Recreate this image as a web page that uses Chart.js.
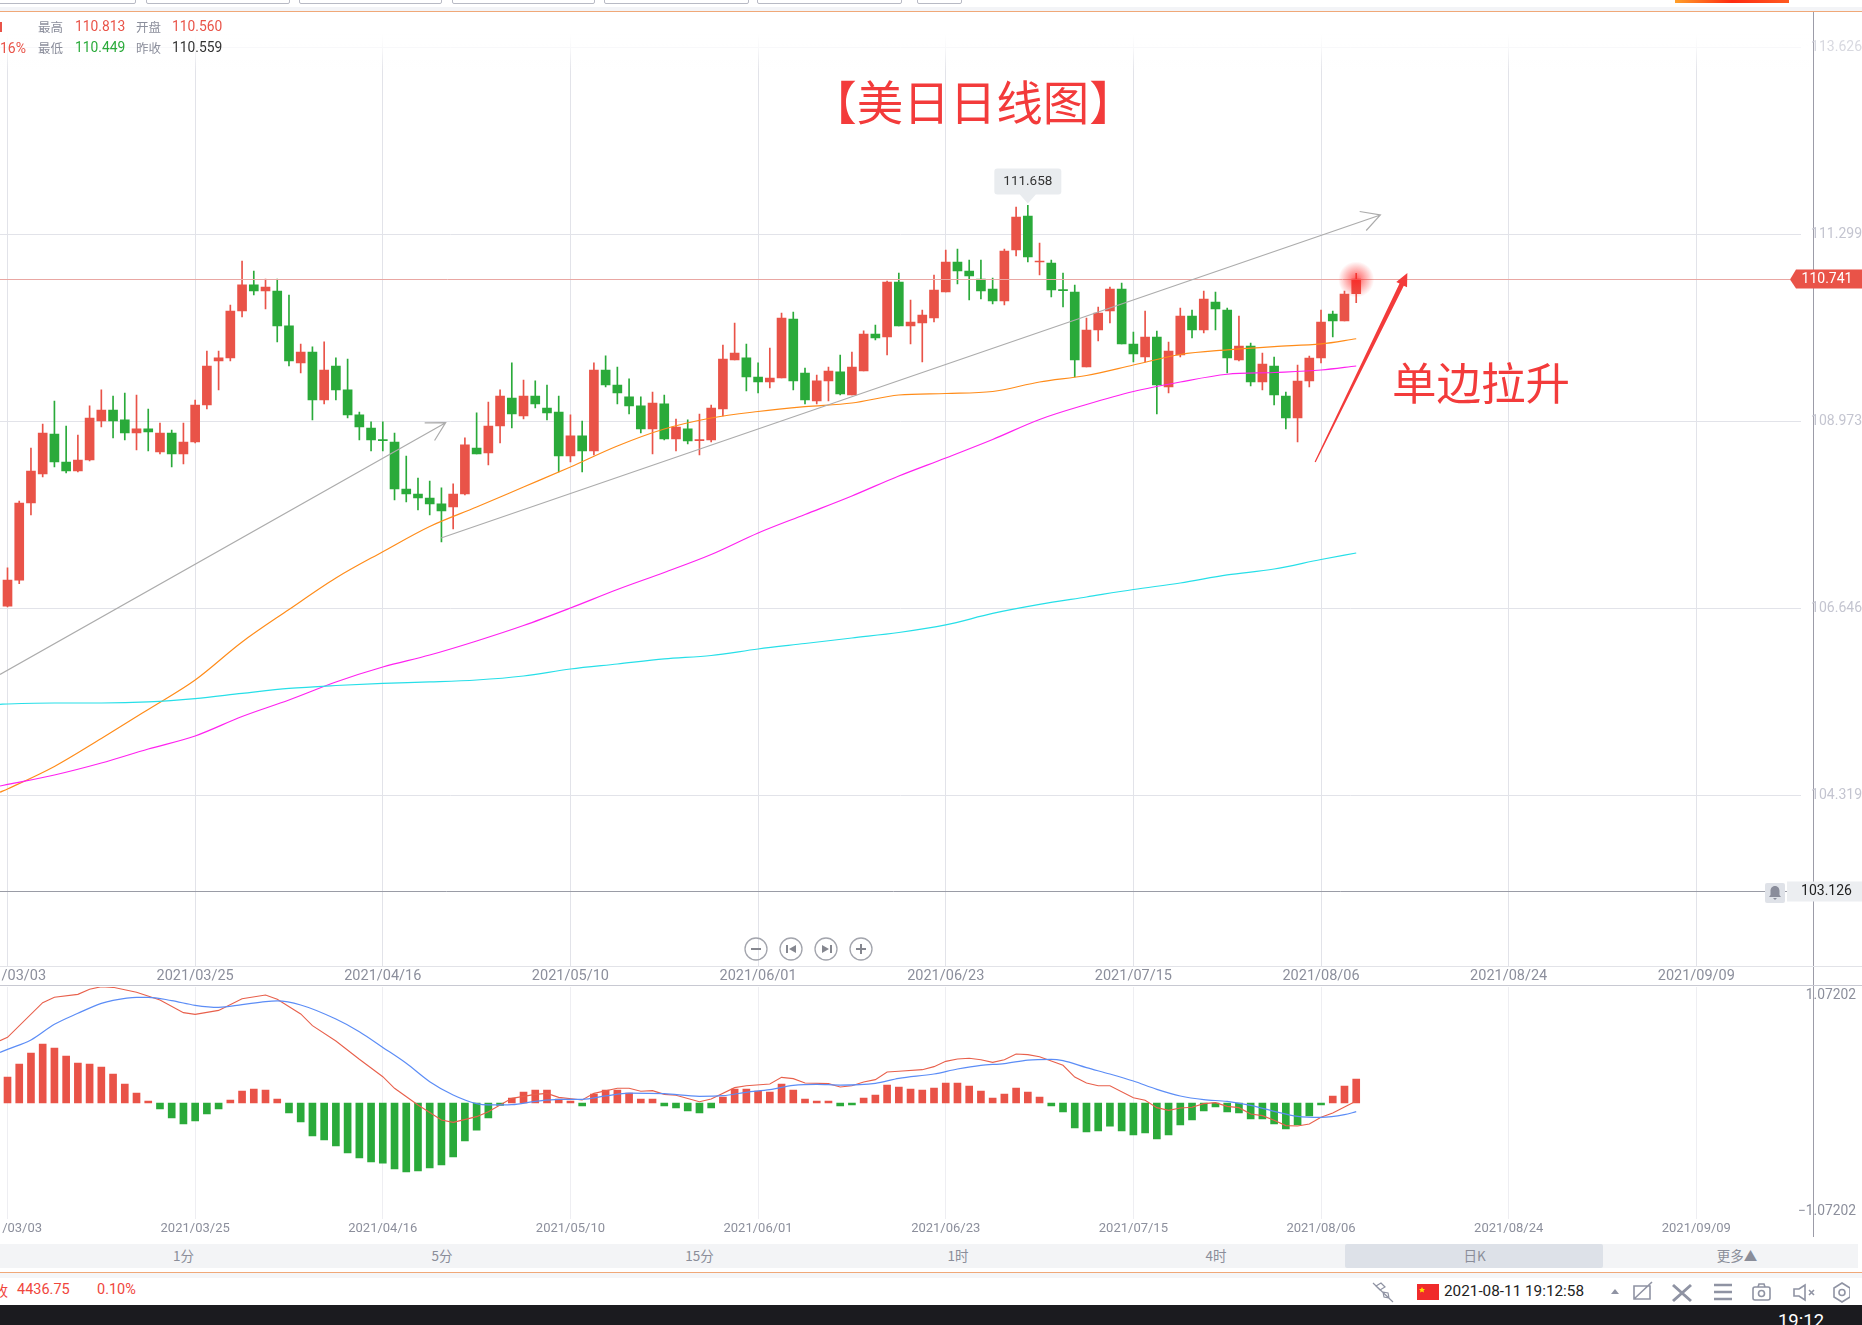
<!DOCTYPE html>
<html>
<head>
<meta charset="utf-8">
<title>USDJPY daily</title>
<script src="https://cdn.jsdelivr.net/npm/chart.js@4/dist/chart.umd.min.js"></script>
<style>
  html, body { margin: 0; padding: 0; background: #fff; }
  body { position: relative; width: 1862px; height: 1325px; overflow: hidden; font-family: Roboto, "Noto Sans CJK SC", sans-serif; }
  canvas { position: absolute; left: 0; }
  .box { position: absolute; }
  .txt { position: absolute; white-space: nowrap; line-height: 1; transform: translateY(-50%); }
  .mid { transform: translate(-50%, -50%); }
  .cjk { font-family: "Noto Sans CJK SC", sans-serif; }
  svg { position: absolute; }
</style>
</head>
<body>
<div class="box" style="left:1813px;top:12px;width:1px;height:1225px;background:#9c9ca8"></div>
<canvas id="priceChart" width="1862" height="985" style="top:0"></canvas>
<canvas id="macdChart" width="1862" height="255" style="top:985px"></canvas>

<svg width="170" height="30" style="left:740px;top:934px" fill="none" stroke="#a3a5ad" stroke-width="1.3">
  <circle cx="16" cy="15" r="11"/><circle cx="51" cy="15" r="11"/><circle cx="86" cy="15" r="11"/><circle cx="121" cy="15" r="11"/>
  <path d="M11 15h10M116 15h10M121 10v10" stroke="#85878f" stroke-width="2"/>
  <path d="M47 11v8M91 11v8" stroke="#85878f" stroke-width="2"/>
  <path d="M56 11l-7 4 7 4zM82 11l7 4-7 4z" fill="#85878f" stroke="none"/>
</svg>
<svg width="20" height="20" style="left:1765px;top:883px">
  <rect width="20" height="20" rx="2" fill="#dfe2e8"/>
  <path d="M10 3c-3 0-4.500 2.500-4.500 5v4l-1.500 2h12l-1.500-2v-4c0-2.500-1.500-5-4.500-5zM8 15h4l-2 2z" fill="#8a8d9b"/>
</svg>
<svg width="480" height="28" style="left:1370px;top:1278px" fill="none" stroke="#8f93a3" stroke-width="1.6">
  <path d="M3 5l20 19M6 8l5-3 4 4-5 3zM13 14l5 1 1 5-5-1z" stroke-width="1.2"/>
  <rect x="47" y="6" width="22" height="16" fill="#f02b2b" stroke="none"/>
  <path d="M52 9l1 2 2 0-1.500 1.500 .5 2-2-1-2 1 .5-2-1.500-1.500 2 0z" fill="#ffe000" stroke="none"/>
  <path d="M241 16l4-5 4 5z" fill="#8f93a3" stroke="none"/>
  <path d="M264 8h16v13h-16zM264 21l18-17"/>
  <path d="M303 7l18 16M321 7l-18 16" stroke-width="3"/>
  <path d="M344 7h18M344 14h18M344 21h18" stroke-width="2.4"/>
  <rect x="383" y="9" width="17" height="13" rx="2"/><circle cx="391.500" cy="15.500" r="3"/><path d="M388 9l1-3h5l1 3"/>
  <path d="M424 11h5l6-4v15l-6-4h-5zM439 12l5 5M444 12l-5 5"/>
  <path d="M472 5l8 5v9l-8 5-8-5v-9z"/><circle cx="472" cy="14.500" r="3"/>
</svg>

<script>
// Candles, one entry per trading day from 2021/03/03.
const opens = [106.673,106.998,107.957,108.318,108.815,108.467,108.355,108.492,108.977,109.114,108.990,108.828,108.878,108.592,108.828,108.567,108.716,109.176,109.723,109.761,110.345,110.669,110.594,110.594,110.159,109.699,109.835,109.238,109.661,109.363,109.052,108.890,108.741,108.716,108.131,108.069,108.019,107.945,107.907,108.069,108.641,108.579,108.915,109.263,109.039,109.288,109.139,109.089,108.542,108.791,108.604,109.611,109.425,109.276,109.164,108.878,109.189,108.753,108.878,108.733,108.741,109.126,109.736,109.761,109.524,109.462,109.512,110.246,109.574,109.226,109.475,109.587,109.300,109.599,110.059,110.022,110.706,110.159,110.196,110.258,110.581,110.954,110.843,110.743,110.619,110.469,111.104,111.527,110.954,110.942,110.606,110.581,109.648,110.109,110.345,110.619,109.935,109.773,110.022,109.400,109.798,110.283,110.109,110.457,110.357,109.736,109.910,109.462,109.661,109.288,109.014,109.474,109.760,110.308,110.221,110.560];
const highs = [107.151,107.982,108.641,108.940,109.226,108.915,108.803,109.164,109.363,109.288,109.325,109.300,109.126,108.952,108.865,108.952,109.238,109.848,109.848,110.420,110.967,110.843,110.743,110.743,110.544,109.935,109.898,109.960,109.761,109.748,109.089,108.965,108.965,108.828,108.542,108.268,108.231,108.144,108.194,108.766,109.077,109.213,109.363,109.699,109.487,109.475,109.425,109.288,109.052,108.977,109.699,109.786,109.649,109.500,109.276,109.338,109.300,109.002,108.990,109.064,109.176,109.922,110.196,109.935,109.699,109.885,110.320,110.333,109.636,109.549,109.649,109.798,109.835,110.097,110.171,110.718,110.818,110.482,110.357,110.793,111.104,111.116,110.979,110.979,110.755,111.116,111.639,111.658,111.191,110.979,110.818,110.668,110.258,110.395,110.644,110.693,110.084,110.345,110.096,109.959,110.382,110.357,110.594,110.581,110.382,110.283,109.947,109.823,109.773,109.338,109.673,109.785,110.357,110.345,110.594,110.813];
const lows = [106.663,106.954,107.808,108.281,108.405,108.330,108.343,108.480,108.902,108.766,108.741,108.616,108.604,108.567,108.405,108.442,108.703,109.126,109.363,109.723,110.271,110.544,110.370,109.960,109.661,109.574,108.990,109.189,109.238,109.014,108.741,108.604,108.604,107.994,107.970,107.870,107.808,107.472,107.634,108.057,108.567,108.430,108.703,108.890,109.002,109.139,108.990,108.343,108.467,108.343,108.554,109.400,109.189,109.064,108.828,108.567,108.741,108.604,108.691,108.554,108.716,109.039,109.736,109.350,109.325,109.388,109.512,109.363,109.189,109.189,109.226,109.300,109.300,109.599,109.985,109.798,110.159,109.935,109.711,110.208,110.581,110.681,110.482,110.494,110.432,110.420,111.029,110.954,110.793,110.519,110.395,109.524,109.648,109.972,110.196,109.935,109.711,109.711,109.064,109.325,109.773,110.009,110.071,110.109,109.574,109.723,109.412,109.362,109.176,108.877,108.716,109.400,109.698,110.022,110.221,110.449];
const closes = [106.998,107.957,108.355,108.828,108.467,108.355,108.492,109.014,109.114,108.977,108.828,108.878,108.840,108.828,108.567,108.716,109.176,109.661,109.761,110.345,110.669,110.594,110.644,110.159,109.723,109.835,109.238,109.611,109.363,109.052,108.902,108.741,108.733,108.131,108.069,108.019,107.945,107.858,108.069,108.679,108.567,108.915,109.288,109.064,109.288,109.189,109.077,108.542,108.791,108.604,109.611,109.425,109.325,109.164,108.878,109.201,108.753,108.902,108.728,108.741,109.139,109.748,109.823,109.524,109.462,109.512,110.258,109.475,109.238,109.475,109.599,109.313,109.649,110.059,110.009,110.706,110.159,110.208,110.295,110.606,110.954,110.843,110.780,110.594,110.469,111.091,111.514,111.017,110.967,110.606,110.598,109.736,110.109,110.320,110.619,109.935,109.810,110.022,109.425,109.847,110.283,110.109,110.494,110.370,109.760,109.910,109.462,109.686,109.300,109.014,109.474,109.760,110.208,110.221,110.556,110.741];

// Moving averages, read every four candles.
const maIdx = [-0.64,0,4,8,12,16,20,24,28,32,36,40,44,48,52,56,60,64,68,72,76,80,84,88,92,96,100,104,108,112,115];
const maOrange = [104.359,104.400,104.680,105.028,105.389,105.755,106.228,106.632,107.024,107.351,107.665,107.907,108.156,108.405,108.666,108.877,109.014,109.095,109.155,109.201,109.300,109.319,109.344,109.462,109.543,109.673,109.804,109.862,109.903,109.935,110.000];
const maMagenta = [104.437,104.456,104.574,104.723,104.897,105.059,105.301,105.507,105.731,105.917,106.066,106.241,106.433,106.651,106.881,107.093,107.316,107.584,107.814,108.044,108.293,108.517,108.747,108.996,109.182,109.344,109.462,109.558,109.580,109.611,109.661];
const maCyan = [105.453,105.457,105.469,105.469,105.482,105.523,105.588,105.650,105.687,105.714,105.731,105.755,105.805,105.892,105.954,106.017,106.060,106.141,106.209,106.278,106.346,106.440,106.583,106.695,106.788,106.881,106.962,107.062,107.136,107.254,107.335];

// MACD pane.
const macdHist = [.240,.360,.462,.545,.508,.434,.370,.360,.333,.268,.176,.092,.018,-.055,-.139,-.194,-.166,-.102,-.055,.028,.111,.129,.120,.037,-.092,-.176,-.305,-.342,-.397,-.462,-.508,-.545,-.555,-.610,-.638,-.628,-.601,-.573,-.499,-.351,-.250,-.139,-.022,.046,.102,.120,.120,.037,.018,-.028,.083,.120,.120,.092,.037,.037,-.028,-.046,-.074,-.092,-.046,.055,.129,.129,.111,.102,.176,.120,.037,.018,.018,-.028,-.018,.046,.074,.166,.148,.129,.120,.139,.185,.185,.157,.111,.046,.083,.139,.102,.055,-.028,-.083,-.231,-.268,-.259,-.213,-.259,-.296,-.277,-.333,-.296,-.203,-.157,-.074,-.037,-.083,-.092,-.148,-.148,-.194,-.240,-.203,-.120,-.018,.065,.157,.222];
const difIdx = [-0.64,0,3,4,6,7,8,9,11,13,15,16,18,20,22,23,25,26,28,30,32,33,35,37,38,40,41,43,45,46,47,49,50,52,53,54,55,56,57,59,60,62,63,65,66,67,68,70,71,72,73,74,75,76,78,79,80,81,82,83,84,85,86,87,88,89,90,91,92,93,94,96,97,98,99,100,101,102,103,104,105,106,107,108,109,110,111,112,113,114,115];
const difValues = [.576,.607,.927,.977,1.004,1.051,1.075,1.069,1.023,.952,.835,.819,.856,.964,.998,.958,.823,.715,.573,.404,.243,.136,-.018,-.157,-.179,-.126,-.080,.043,.080,.089,.052,.028,.089,.136,.136,.108,.114,.080,.071,.012,.037,.142,.160,.176,.237,.225,.185,.179,.148,.160,.194,.216,.287,.293,.308,.336,.385,.407,.413,.400,.376,.400,.453,.447,.428,.388,.348,.240,.185,.160,.160,.049,.025,-.043,-.068,-.046,-.040,-.006,.003,-.031,-.043,-.102,-.117,-.160,-.209,-.213,-.194,-.132,-.092,-.037,.018];
const deaIdx = [-0.64,0,2,4,6,8,9,11,12,14,16,18,20,22,23,25,28,30,32,34,36,38,40,41,43,45,47,49,51,53,56,59,61,63,65,67,69,71,74,76,79,81,83,85,87,89,90,92,94,96,98,100,102,104,106,108,110,112,114,115];
const deaValues = [.468,.496,.582,.727,.829,.921,.949,.977,.977,.946,.903,.884,.909,.937,.943,.906,.776,.659,.514,.367,.197,.074,-.006,-.018,-.015,.015,.034,.034,.065,.092,.086,.062,.068,.099,.123,.163,.173,.166,.182,.228,.268,.314,.348,.364,.397,.404,.391,.327,.268,.203,.126,.065,.031,.015,-.022,-.077,-.123,-.132,-.108,-.080];

// Axes.
const tickIdx = [0,16,32,48,64,80,96,112,128,144];
const tickLabels = ['2021/03/03','2021/03/25','2021/04/16','2021/05/10','2021/06/01','2021/06/23','2021/07/15','2021/08/06','2021/08/24','2021/09/09'];
const priceTicks = [113.626,111.299,108.973,106.646,104.319];
const macdTicks = [1.07202,-1.07202];
const lastPrice = 110.741;
const alertPrice = 103.126;
const peakIndex = 87;

// Hand drawn arrows on the chart, in candle index and price.
const grayArrowX = [[-0.64,37.36],[36.97,117.06]];
const grayArrowY = [[105.824,108.956],[107.522,111.539]];
const redArrowX = [111.5,119.36];
const redArrowY = [108.467,110.818];

const RED = '#e95348';
const GREEN = '#2aaa3a';
const xMin = -0.64;
const xMax = 152.9;
const axisWidth = 61.3;

function pairs(xs, ys) {
  return xs.map((x, i) => ({x: x, y: ys[i]}));
}

function candleColor(i) {
  return closes[i] >= opens[i] ? RED : GREEN;
}

function xAxis(fontSize, gridColor, height, padding) {
  return {
    type: 'linear',
    min: xMin,
    max: xMax,
    offset: false,
    afterBuildTicks: (scale) => { scale.ticks = tickIdx.map(v => ({value: v})); },
    afterFit: (scale) => { scale.paddingLeft = 0; scale.paddingRight = 0; scale.height = height; },
    grid: {color: gridColor, offset: false, drawTicks: false},
    border: {display: false},
    ticks: {
      autoSkip: false,
      maxRotation: 0,
      padding: padding,
      color: '#8c8f9c',
      font: {family: 'Roboto', size: fontSize},
      callback: (v) => tickLabels[tickIdx.indexOf(v)]
    }
  };
}

function lineSet(data, color, width, smooth) {
  return {
    type: 'line',
    data: data,
    borderColor: color,
    borderWidth: width,
    pointRadius: 0,
    cubicInterpolationMode: smooth ? 'monotone' : 'default',
    order: 1
  };
}

function drawOpenArrow(ctx, x0, y0, x1, y1) {
  const angle = Math.atan2(y1 - y0, x1 - x0);
  ctx.beginPath();
  ctx.moveTo(x0, y0);
  ctx.lineTo(x1, y1);
  ctx.moveTo(x1 - 21 * Math.cos(angle - 0.5), y1 - 21 * Math.sin(angle - 0.5));
  ctx.lineTo(x1, y1);
  ctx.lineTo(x1 - 21 * Math.cos(angle + 0.5), y1 - 21 * Math.sin(angle + 0.5));
  ctx.stroke();
}

function drawRedArrow(ctx, x0, y0, x1, y1) {
  const angle = Math.atan2(y1 - y0, x1 - x0);
  const nx = -Math.sin(angle), ny = Math.cos(angle);
  const bx = x1 - 13 * Math.cos(angle), by = y1 - 13 * Math.sin(angle);
  ctx.beginPath();
  ctx.moveTo(x0 + nx * 0.6, y0 + ny * 0.6);
  ctx.lineTo(bx + nx * 2.4, by + ny * 2.4);
  ctx.lineTo(bx + nx * 6, by + ny * 6);
  ctx.lineTo(x1, y1);
  ctx.lineTo(bx - nx * 6, by - ny * 6);
  ctx.lineTo(bx - nx * 2.4, by - ny * 2.4);
  ctx.lineTo(x0 - nx * 0.6, y0 - ny * 0.6);
  ctx.closePath();
  ctx.fill();
}

// Everything on top of the candles: level lines, tags, arrows, peak bubble.
const priceOverlay = {
  id: 'priceOverlay',
  afterDatasetsDraw(chart) {
    const ctx = chart.ctx, sx = chart.scales.x, sy = chart.scales.y;
    ctx.save();

    const lastY = Math.round(sy.getPixelForValue(lastPrice)) + 0.5;
    const alertY = Math.round(sy.getPixelForValue(alertPrice)) + 0.5;
    ctx.lineWidth = 1;
    ctx.strokeStyle = '#e9a7a3';
    ctx.beginPath(); ctx.moveTo(0, lastY); ctx.lineTo(1790, lastY); ctx.stroke();
    ctx.strokeStyle = '#9a9ca6';
    ctx.beginPath(); ctx.moveTo(0, alertY); ctx.lineTo(1787, alertY); ctx.stroke();

    // Glow on the live candle.
    const haloX = sx.getPixelForValue(opens.length - 1);
    const halo = ctx.createRadialGradient(haloX, lastY, 2, haloX, lastY, 18);
    halo.addColorStop(0, 'rgba(255,30,30,.65)');
    halo.addColorStop(1, 'rgba(255,30,30,0)');
    ctx.fillStyle = halo;
    ctx.beginPath(); ctx.arc(haloX, lastY, 18, 0, Math.PI * 2); ctx.fill();

    ctx.strokeStyle = '#acacac';
    ctx.lineWidth = 1.2;
    grayArrowX.forEach((xs, i) => {
      drawOpenArrow(ctx, sx.getPixelForValue(xs[0]), sy.getPixelForValue(grayArrowY[i][0]),
        sx.getPixelForValue(xs[1]), sy.getPixelForValue(grayArrowY[i][1]));
    });
    ctx.fillStyle = '#f33b3b';
    drawRedArrow(ctx, sx.getPixelForValue(redArrowX[0]), sy.getPixelForValue(redArrowY[0]),
      sx.getPixelForValue(redArrowX[1]), sy.getPixelForValue(redArrowY[1]));

    // Bubble over the highest candle.
    const px = sx.getPixelForValue(peakIndex), py = sy.getPixelForValue(highs[peakIndex]);
    ctx.fillStyle = '#e9ecef';
    ctx.beginPath();
    ctx.roundRect(px - 33.5, py - 37, 67, 26, 3);
    ctx.moveTo(px - 8, py - 11);
    ctx.lineTo(px, py - 2);
    ctx.lineTo(px + 8, py - 11);
    ctx.fill();
    ctx.fillStyle = '#333';
    ctx.font = '13.5px Roboto';
    ctx.textAlign = 'center';
    ctx.textBaseline = 'middle';
    ctx.fillText(highs[peakIndex].toFixed(3), px, py - 24);

    // Price tags on the right axis.
    ctx.fillStyle = RED;
    ctx.beginPath();
    ctx.moveTo(1790, lastY);
    ctx.lineTo(1796, lastY - 10);
    ctx.lineTo(1862, lastY - 10);
    ctx.lineTo(1862, lastY + 9);
    ctx.lineTo(1796, lastY + 9);
    ctx.fill();
    ctx.fillStyle = '#fff';
    ctx.font = '14px Roboto';
    ctx.fillText(lastPrice.toFixed(3), 1827, lastY);
    ctx.fillStyle = '#eceef1';
    ctx.fillRect(1787, alertY - 10, 75, 20);
    ctx.fillStyle = '#222';
    ctx.fillText(alertPrice.toFixed(3), 1826.5, alertY);
    ctx.restore();
  }
};

new Chart(document.getElementById('priceChart'), {
  type: 'bar',
  plugins: [priceOverlay],
  data: {
    datasets: [
      lineSet(pairs(maIdx, maCyan), '#27dfe8', 1.2, true),
      lineSet(pairs(maIdx, maMagenta), '#ff22f0', 1.2, true),
      lineSet(pairs(maIdx, maOrange), '#ff8c1a', 1.2, true),
      {
        data: opens.map((o, i) => ({x: i, y: [o, closes[i]]})),
        backgroundColor: opens.map((o, i) => candleColor(i)),
        barThickness: 9,
        minBarLength: 1,
        grouped: false,
        order: 2
      },
      {
        data: opens.map((o, i) => ({x: i, y: [lows[i], highs[i]]})),
        backgroundColor: opens.map((o, i) => candleColor(i)),
        barThickness: 1,
        grouped: false,
        order: 3
      }
    ]
  },
  options: {
    responsive: false,
    animation: false,
    layout: {padding: {top: 12}},
    plugins: {legend: {display: false}, tooltip: {enabled: false}},
    scales: {
      x: xAxis(14.5, '#e2e3e9', 19, 2),
      y: {
        position: 'right',
        min: 102.198,
        max: 114.064,
        afterBuildTicks: (scale) => { scale.ticks = priceTicks.map(v => ({value: v})); },
        afterFit: (scale) => { scale.width = axisWidth; scale.paddingTop = 0; scale.paddingBottom = 0; },
        grid: {drawTicks: false, color: '#e2e3e9'},
        border: {display: false},
        ticks: {
          crossAlign: 'far',
          padding: 6,
          color: '#c4c5d0',
          font: {family: 'Roboto', size: 14},
          callback: (v) => v.toFixed(3)
        }
      }
    }
  }
});

// The two MACD labels sit inside the pane, hung from its top and bottom edge.
const macdLabels = {
  id: 'macdLabels',
  afterDraw(chart) {
    const ctx = chart.ctx, sy = chart.scales.y;
    ctx.save();
    ctx.fillStyle = '#8c8f9c';
    ctx.font = '13.8px Roboto';
    ctx.textAlign = 'right';
    ctx.textBaseline = 'middle';
    macdTicks.forEach(v => {
      const text = (v < 0 ? '\u2212' : '') + Math.abs(v).toFixed(5);
      ctx.fillText(text, 1856, sy.getPixelForValue(v) + (v > 0 ? 9 : -7));
    });
    ctx.restore();
  }
};

new Chart(document.getElementById('macdChart'), {
  type: 'bar',
  plugins: [macdLabels],
  data: {
    datasets: [
      lineSet(pairs(deaIdx, deaValues), '#5c8df6', 1.2, true),
      lineSet(pairs(difIdx, difValues), '#e8604c', 1.1, false),
      {
        data: pairs(macdHist.map((v, i) => i), macdHist),
        backgroundColor: macdHist.map(v => v >= 0 ? RED : GREEN),
        barThickness: 7,
        order: 2
      }
    ]
  },
  options: {
    responsive: false,
    animation: false,
    layout: {padding: {top: 2}},
    plugins: {legend: {display: false}, tooltip: {enabled: false}},
    scales: {
      x: xAxis(13, '#eeeef2', 21, 2),
      y: {
        position: 'right',
        min: macdTicks[1],
        max: macdTicks[0],
        afterFit: (scale) => { scale.width = axisWidth; scale.paddingTop = 0; scale.paddingBottom = 0; },
        grid: {display: false},
        border: {display: false},
        ticks: {display: false}
      }
    }
  }
});

// Page furniture around the charts.
function box(x, y, w, h, css) {
  const el = document.createElement('div');
  el.className = 'box';
  el.style.cssText = 'left:' + x + 'px;top:' + y + 'px;width:' + w + 'px;height:' + h + 'px;' + css;
  document.body.appendChild(el);
  return el;
}

function text(x, y, str, color, size, centered, cjk) {
  const el = document.createElement('div');
  el.className = 'txt' + (centered ? ' mid' : '') + (cjk ? ' cjk' : '');
  el.style.cssText = 'left:' + x + 'px;top:' + y + 'px;color:' + color + ';font-size:' + size + 'px';
  el.textContent = str;
  document.body.appendChild(el);
}

// The grid fades out towards the top of the pane.
box(0, 12, 1812, 60, 'background:linear-gradient(#fff 35%,rgba(255,255,255,.75) 60%,rgba(255,255,255,0))');
box(1814, 12, 48, 60, 'background:rgba(255,255,255,.35)');

// Toolbar tabs cut off by the top of the window.
[[-20,134],[145.5,287.5],[298.5,440],[451.5,593],[604,747],[757,900],[917,960]].forEach(t => {
  box(t[0], -4, t[1] - t[0], 6, 'border:1px solid #b8bac4;border-radius:2px;background:#fff');
});
box(1675, 0, 114, 3, 'background:linear-gradient(90deg,#ffa02a,#ff2a10 50%,#ff5a20)');
box(0, 7, 1862, 4, 'background:#f3f4f7');
box(0, 11, 1862, 1, 'background:#f0a878');

// Quote header.
box(0, 22, 2, 10, 'background:' + RED);
text(0, 47.5, '16%', RED, 14);
text(38, 27, '最高', '#8c8f9c', 12.5, false, true);
text(75, 27, '110.813', RED, 13.8);
text(136, 27, '开盘', '#8c8f9c', 12.5, false, true);
text(172, 27, '110.560', RED, 13.8);
text(38, 47.5, '最低', '#8c8f9c', 12.5, false, true);
text(75, 47.5, '110.449', GREEN, 13.8);
text(136, 47.5, '昨收', '#8c8f9c', 12.5, false, true);
text(172, 47.5, '110.559', '#333', 13.8);

// Annotations typed on the screenshot.
text(973, 100, '【美日日线图】', '#f33b3b', 46.5, true, true);
text(1481, 381, '单边拉升', '#f33b3b', 44.5, true, true);

// Rules between the panes.
box(0, 966, 1862, 1, 'background:#e2e3e8');
box(0, 985, 1862, 1, 'background:#c8c9d2');

// Period tabs.
box(0, 1244, 1858, 24, 'background:#f3f4f6');
box(1345, 1244, 258, 24, 'background:#dde1e8;border-radius:2px');
[[183.5,'1分'],[442,'5分'],[699.5,'15分'],[958,'1时'],[1216,'4时'],[1474.5,'日K'],[1737,'更多▲']].forEach(t => {
  text(t[0], 1255.7, t[1], '#8a8d99', 13.5, true, true);
});

// Status bar.
box(0, 1272, 1862, 1, 'background:#f0a878');
box(0, 1273, 1862, 5, 'background:#f5f6f8');
box(0, 1278, 1862, 27, 'background:#eaedf0;z-index:-1');
box(0, 1305, 1862, 20, 'background:#1b1b1f');
text(-6, 1290, '收', '#f0463c', 14, false, true);
text(17, 1290, '4436.75', '#f0463c', 14.5);
text(97, 1290, '0.10%', '#f0463c', 14.5);
text(1444, 1292, '2021-08-11 19:12:58', '#222', 15.3);
text(1801, 1321, '19:12', '#fff', 18.500, true);
</script>
</body>
</html>
